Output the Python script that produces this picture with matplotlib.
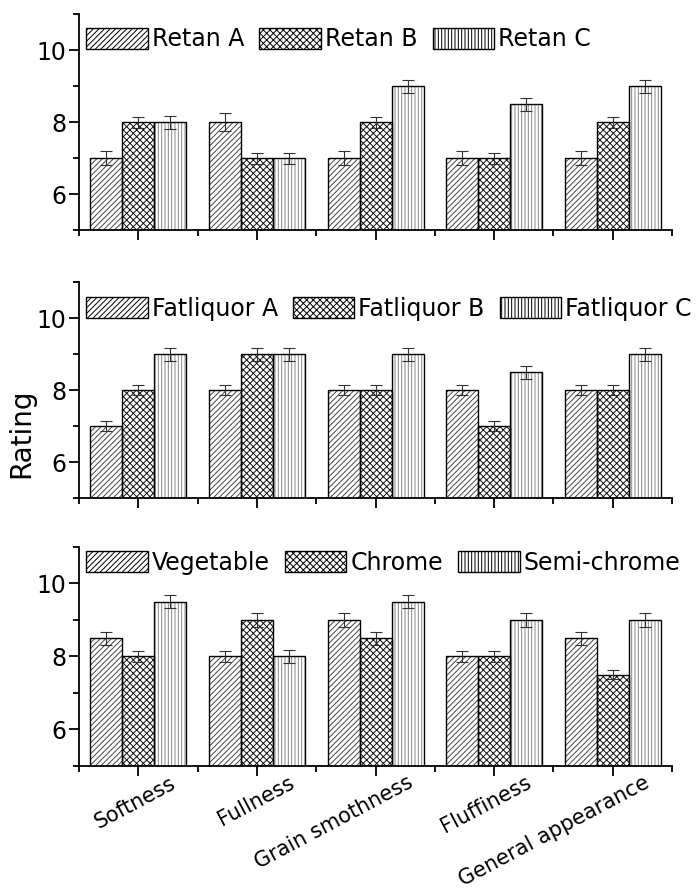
import numpy as np
import matplotlib
matplotlib.use('Agg')
import matplotlib.pyplot as plt
import matplotlib.transforms as mtransforms
from matplotlib.ticker import FixedLocator

plt.rcParams['font.family'] = ['DejaVu Sans']
plt.rcParams['hatch.linewidth'] = 0.7

# categories along the x axis
properties = ['Softness', 'Fullness', 'Grain smothness', 'Fluffiness', 'General appearance']

# top panel: retanning agents
retan_labels = ['Retan A', 'Retan B', 'Retan C']
retan_a = [7, 8, 7, 7, 7]
retan_b = [8, 7, 8, 7, 8]
retan_c = [8, 7, 9, 8.5, 9]
retan_err_a = [0.2, 0.25, 0.2, 0.2, 0.2]
retan_err_b = [0.15, 0.15, 0.15, 0.15, 0.15]
retan_err_c = [0.18, 0.15, 0.18, 0.18, 0.18]

# middle panel: fatliquors
fat_labels = ['Fatliquor A', 'Fatliquor B', 'Fatliquor C']
fat_a = [7, 8, 8, 8, 8]
fat_b = [8, 9, 8, 7, 8]
fat_c = [9, 9, 9, 8.5, 9]
fat_err_a = [0.15, 0.15, 0.15, 0.15, 0.15]
fat_err_b = [0.15, 0.18, 0.15, 0.15, 0.15]
fat_err_c = [0.18, 0.18, 0.18, 0.18, 0.18]

# bottom panel: tanning systems
tan_labels = ['Vegetable', 'Chrome', 'Semi-chrome']
tan_a = [8.5, 8, 9, 8, 8.5]
tan_b = [8, 9, 8.5, 8, 7.5]
tan_c = [9.5, 8, 9.5, 9, 9]
tan_err_a = [0.18, 0.15, 0.18, 0.15, 0.18]
tan_err_b = [0.15, 0.18, 0.18, 0.15, 0.12]
tan_err_c = [0.18, 0.18, 0.18, 0.18, 0.18]

panels = [
    (retan_labels, [retan_a, retan_b, retan_c], [retan_err_a, retan_err_b, retan_err_c]),
    (fat_labels, [fat_a, fat_b, fat_c], [fat_err_a, fat_err_b, fat_err_c]),
    (tan_labels, [tan_a, tan_b, tan_c], [tan_err_a, tan_err_b, tan_err_c]),
]

hatches = ['//////', 'xxxxx', '|||||']
hatch_cols = ['#444444', '#111111', '#888888']
width = 0.27

fig = plt.figure(figsize=(7, 8.92), dpi=100)
rects = [[0.113, 0.742, 0.847, 0.242],
         [0.113, 0.4417, 0.847, 0.242],
         [0.113, 0.1413, 0.847, 0.2455]]
legend_y = [0.884, 0.877, 0.927]

x = np.arange(1, len(properties) + 1)
axes = []
for rect, ly, (labels, series, errs) in zip(rects, legend_y, panels):
    ax = fig.add_axes(rect)
    for i, (vals, err) in enumerate(zip(series, errs)):
        pos = x + (i - 1) * width
        # hatch layer (hatch takes the edge colour), then a black outline on top
        ax.bar(pos, vals, width, color='white', edgecolor=hatch_cols[i],
               hatch=hatches[i], linewidth=0, zorder=2)
        ax.bar(pos, vals, width, fill=False, edgecolor='black', linewidth=1.0, zorder=2.5)
        ax.errorbar(pos, vals, yerr=err, fmt='none', ecolor='#333333',
                    elinewidth=0.8, capsize=4, capthick=0.8, zorder=3)
    # legend proxies showing hatch + outline
    handles = [plt.Rectangle((0, 0), 1, 1, facecolor='white', edgecolor='black',
                             hatch=hatches[i], linewidth=1.0) for i in range(3)]
    ax.set_xlim(0.5, 5.5)
    ax.set_ylim(5, 11)
    ax.yaxis.set_major_locator(FixedLocator([6, 8, 10]))
    ax.yaxis.set_minor_locator(FixedLocator([5, 7, 9, 11]))
    ax.xaxis.set_major_locator(FixedLocator(x))
    ax.xaxis.set_minor_locator(FixedLocator(np.arange(0.5, 6.0, 1.0)))
    for s in ['top', 'right']:
        ax.spines[s].set_visible(False)
    for s in ['left', 'bottom']:
        ax.spines[s].set_linewidth(1.3)
    ax.tick_params(axis='both', which='major', direction='out', length=7, width=1.3,
                   labelsize=17, pad=2)
    ax.tick_params(axis='both', which='minor', direction='out', length=4, width=1.3)
    ax.set_xticklabels([])
    ax.legend(handles, labels, loc='center left', bbox_to_anchor=(0.012, ly), ncol=3,
              frameon=False, fontsize=17, handlelength=2.6, handleheight=1.0,
              columnspacing=0.65, handletextpad=0.17, borderpad=0, borderaxespad=0)
    axes.append(ax)

axes[2].tick_params(axis='x', which='major', pad=0)
axes[2].set_xticklabels(properties, rotation=28, ha='right', va='top',
                        rotation_mode='anchor', fontsize=15)
shift = mtransforms.ScaledTranslation(0.31, 0.03, fig.dpi_scale_trans)
for lab in axes[2].get_xticklabels():
    lab.set_transform(lab.get_transform() + shift)

fig.text(0.031, 0.5146, 'Rating', rotation=90, fontsize=20, ha='center', va='center')

fig.savefig('out.png', dpi=100)
